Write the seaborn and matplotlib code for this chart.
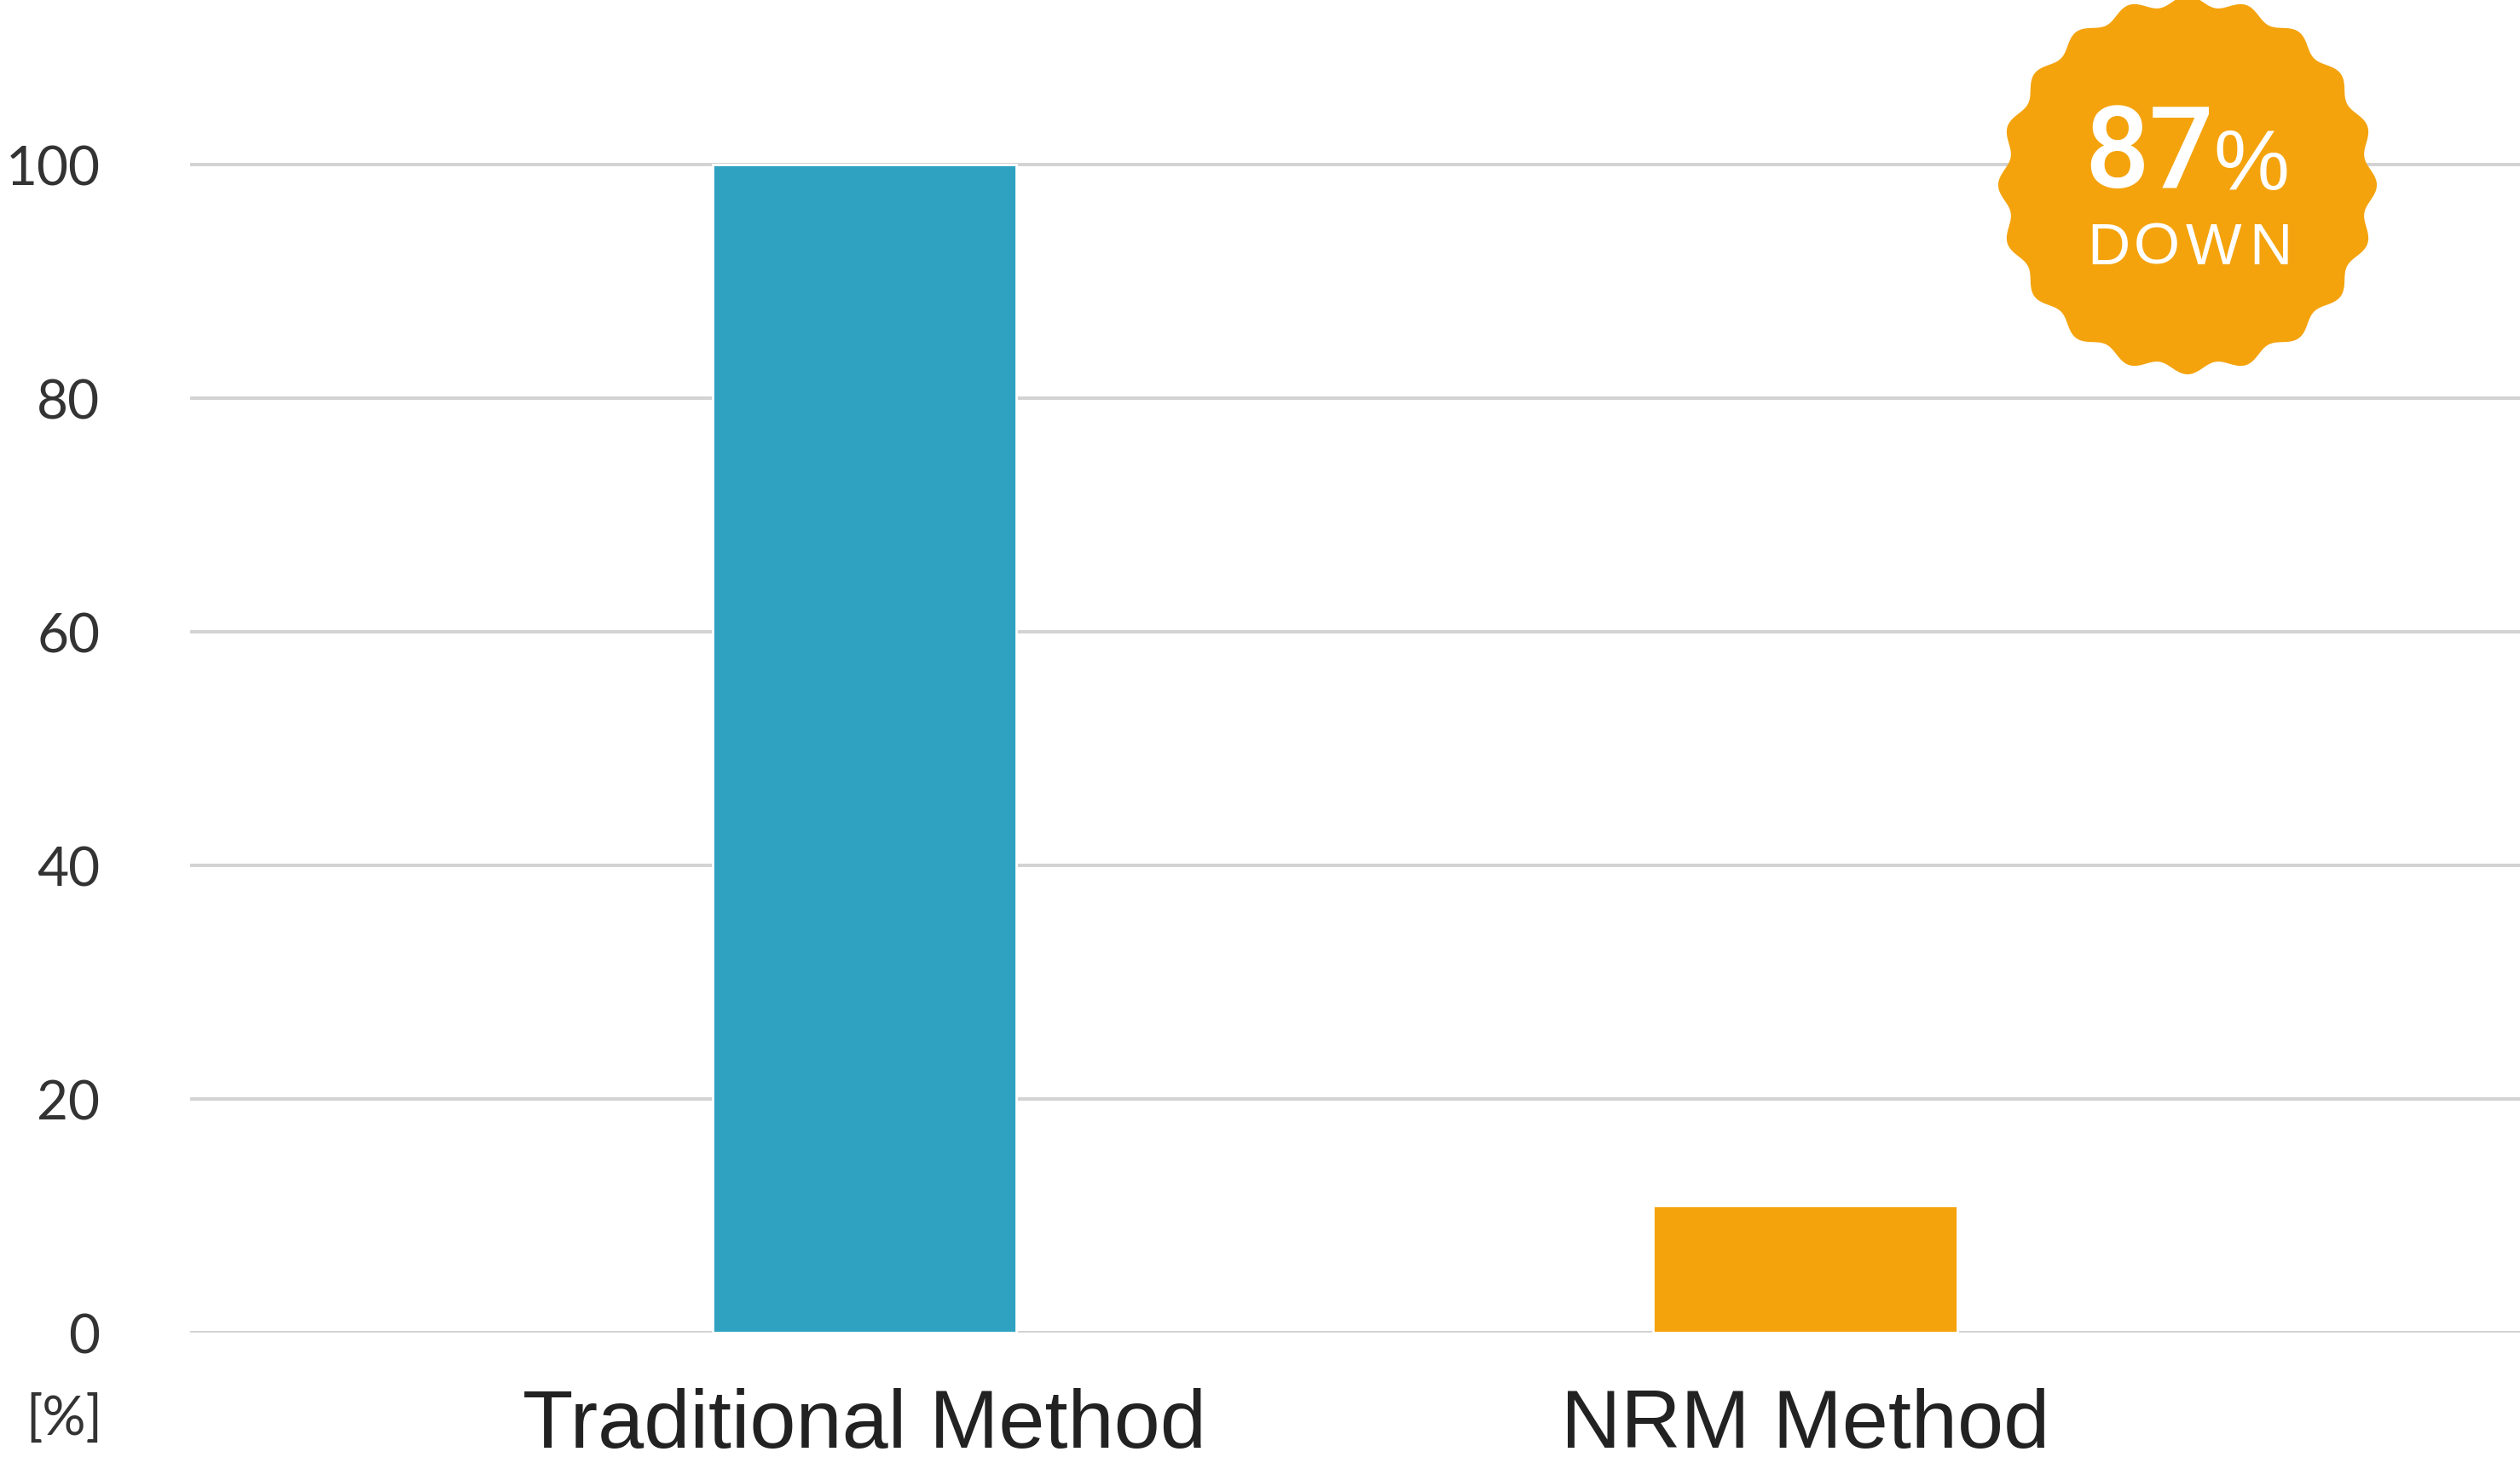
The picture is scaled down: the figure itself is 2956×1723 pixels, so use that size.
import numpy as np
import pandas as pd
import matplotlib
matplotlib.use("Agg")
import matplotlib.pyplot as plt
from matplotlib.patches import Polygon
import seaborn as sns

# data
methods = ["Traditional Method", "NRM Method"]
values = [100, 10.9]
bar_colors = ["#2FA1C1", "#F4A30D"]
y_ticks = [0, 20, 40, 60, 80, 100]
badge_big = "87"
badge_pct = "%"
badge_sub = "DOWN"
unit_label = "[%]"

W, H, DPI = 2956, 1724, 200

sns.set_theme(style="white")
plt.rcParams["font.family"] = ["Liberation Sans", "DejaVu Sans"]

df = pd.DataFrame({"method": methods, "value": values})

fig = plt.figure(figsize=(W / DPI, H / DPI), dpi=DPI)
ax = fig.add_axes([223 / W, (H - 1564) / H, 1 - 223 / W, 1564 / H])

sns.barplot(data=df, x="method", y="value", hue="method", palette=bar_colors,
            width=0.323, saturation=1, legend=False, ax=ax)

ax.set_xlim(-0.7168, 1.7599)
ax.set_ylim(0, 114.2)
ax.set_yticks(y_ticks)
ax.grid(axis="y", color="#D3D3D3", linewidth=1.44)
ax.grid(axis="x", visible=False)
ax.set_axisbelow(True)
for s in ax.spines.values():
    s.set_visible(False)
ax.set_xlabel("")
ax.set_ylabel("")
ax.tick_params(axis="both", length=0)
ax.tick_params(axis="y", pad=38)
ax.tick_params(axis="x", pad=23)
for lab in ax.get_yticklabels():
    lab.set_fontfamily(["Lato", "DejaVu Sans"])
    lab.set_fontweight("normal")
    lab.set_fontsize(23)
    lab.set_color("#333333")
for lab in ax.get_xticklabels():
    lab.set_fontsize(35)
    lab.set_color("#222222")


def px(x, y):
    # pixel coords from top-left -> inches
    return x / DPI, (H - y) / DPI


# unit label under the y axis
fig.text(*px(75, 1683), unit_label, ha="center", va="baseline", fontsize=23,
         family=["Lato", "DejaVu Sans"], color="#333333",
         transform=fig.dpi_scale_trans)

# scalloped badge
cx, cy, R = 2566, 218, 216
theta = np.linspace(0, 2 * np.pi, 721)
r = R * (1 + 0.028 * np.cos(20 * theta))
pts = np.column_stack([(cx + r * np.cos(theta)) / DPI,
                       (H - (cy - r * np.sin(theta))) / DPI])
fig.patches.append(Polygon(pts, closed=True, facecolor="#F4A30D", edgecolor="none",
                           transform=fig.dpi_scale_trans, zorder=5))

fig.text(*px(2597, 220), badge_big, ha="right", va="baseline", fontsize=48,
         family=["Roboto", "DejaVu Sans"], fontweight="medium", color="white",
         transform=fig.dpi_scale_trans, zorder=6)
fig.text(*px(2596, 222), badge_pct, ha="left", va="baseline", fontsize=36,
         family=["Liberation Sans", "DejaVu Sans"], color="white",
         transform=fig.dpi_scale_trans, zorder=6)
# letter-spaced "DOWN"
for ch, x in zip(badge_sub, [2473, 2530, 2597, 2663]):
    fig.text(*px(x, 310), ch, ha="center", va="baseline", fontsize=25,
             family=["Liberation Sans", "DejaVu Sans"], color="white",
             transform=fig.dpi_scale_trans, zorder=6)

fig.savefig("out.png", dpi=DPI, facecolor="white")
